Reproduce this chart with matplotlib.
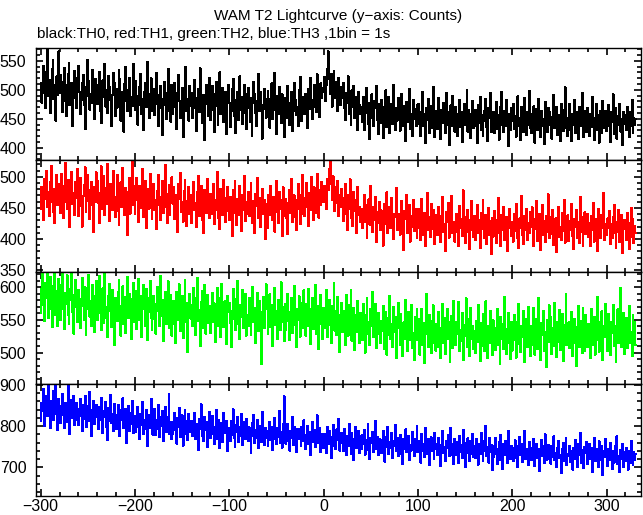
import numpy as np
import matplotlib.pyplot as plt
from matplotlib.ticker import MultipleLocator

plt.rcParams['font.family'] = ['Liberation Sans', 'DejaVu Sans']

title = 'WAM T2 Lightcurve (y\u2212axis: Counts)'
subtitle = 'black:TH0, red:TH1, green:TH2, blue:TH3 ,1bin = 1s'
t_start = -300   # time of first bin (s)
bin_width = 1    # 1bin = 1s

# counts per bin
th0 = [
    512, 478, 495, 541, 530, 468, 503, 572, 489, 517, 460, 498, 536, 551, 484, 509, 447, 523, 491, 566,
    494, 525, 513, 462, 481, 537, 508, 455, 499, 528, 546, 473, 490, 512, 437, 504, 533, 486, 469, 520,
    541, 497, 458, 483, 511, 526, 474, 432, 505, 489, 552, 515, 466, 493, 478, 534, 501, 449, 519, 487,
    476, 508, 531, 463, 442, 497, 516, 488, 545, 471, 499, 460, 523, 504, 482, 437, 491, 529, 512, 454,
    502, 469, 485, 534, 518, 447, 476, 496, 428, 510, 539, 481, 463, 499, 521, 455, 487, 472, 544, 493,
    466, 515, 489, 440, 473, 505, 527, 458, 484, 431, 496, 512, 470, 548, 479, 451, 493, 520, 464, 486,
    501, 457, 476, 529, 491, 438, 468, 506, 485, 422, 473, 514, 495, 449, 482, 536, 463, 477, 445, 509,
    459, 488, 512, 470, 433, 494, 526, 481, 452, 467, 503, 419, 476, 498, 540, 463, 484, 447, 506, 472,
    495, 451, 468, 517, 486, 429, 474, 502, 461, 537, 480, 443, 469, 491, 413, 476, 508, 488, 455, 521,
    448, 483, 506, 465, 427, 492, 514, 472, 439, 486, 530, 458, 477, 503, 444, 466, 497, 424, 481, 509,
    477, 436, 464, 501, 519, 455, 482, 425, 470, 496, 448, 523, 466, 487, 441, 474, 509, 460, 432, 492,
    503, 468, 445, 486, 421, 477, 514, 492, 459, 438, 481, 527, 463, 496, 474, 416, 467, 501, 485, 452,
    460, 498, 473, 435, 484, 511, 449, 466, 529, 477, 424, 489, 458, 505, 470, 443, 492, 481, 418, 475,
    486, 451, 507, 469, 440, 478, 496, 429, 463, 512, 483, 457, 471, 437, 499, 522, 465, 446, 488, 474,
    458, 493, 476, 434, 501, 467, 520, 482, 449, 471, 509, 488, 462, 527, 479, 495, 453, 511, 486, 503,
    497, 522, 481, 509, 536, 566, 518, 493, 527, 471, 508, 532, 486, 514, 499, 463, 521, 490, 474, 505,
    486, 512, 469, 448, 495, 477, 523, 458, 481, 439, 499, 470, 506, 452, 488, 463, 431, 497, 474, 459,
    471, 445, 488, 430, 459, 503, 466, 441, 478, 415, 464, 492, 452, 437, 481, 469, 506, 448, 424, 475,
    443, 482, 460, 417, 471, 453, 499, 436, 462, 488, 426, 457, 475, 441, 509, 455, 430, 468, 447, 486,
    465, 429, 451, 493, 438, 472, 456, 411, 479, 445, 460, 502, 433, 458, 421, 483, 449, 467, 437, 474,
    441, 476, 453, 420, 462, 497, 437, 458, 408, 469, 448, 484, 426, 455, 472, 434, 505, 451, 418, 463,
    459, 432, 486, 447, 415, 466, 443, 478, 452, 425, 494, 440, 461, 404, 454, 473, 437, 489, 446, 428,
    470, 445, 421, 458, 483, 436, 462, 410, 449, 476, 439, 455, 499, 428, 465, 443, 417, 459, 481, 434,
    438, 466, 451, 409, 473, 442, 488, 430, 457, 421, 463, 447, 484, 436, 412, 469, 452, 495, 428, 456,
    462, 425, 448, 479, 433, 456, 414, 471, 440, 496, 451, 427, 464, 438, 482, 445, 403, 459, 431, 468,
    447, 476, 432, 455, 419, 465, 489, 437, 451, 413, 470, 444, 428, 486, 456, 422, 461, 439, 498, 434,
    425, 458, 441, 472, 409, 446, 467, 430, 484, 453, 418, 463, 437, 450, 406, 479, 443, 427, 469, 452,
    461, 438, 416, 453, 491, 434, 449, 470, 422, 457, 442, 411, 476, 445, 429, 466, 504, 435, 452, 420,
    447, 475, 430, 411, 458, 440, 483, 426, 462, 449, 415, 471, 438, 456, 495, 432, 418, 464, 446, 427,
    468, 443, 421, 459, 436, 488, 451, 413, 445, 476, 430, 457, 409, 464, 441, 426, 481, 448, 434, 463,
    429, 452, 474, 437, 410, 461, 445, 492, 423, 447, 468, 416, 455, 439, 476, 428, 450, 405, 462, 441,
    456, 431, 470, 444, 418, 462, 437, 483, 426, 452, 439, 449,
]

th1 = [
    448, 483, 470, 431, 497, 465, 509, 452, 476, 437, 492, 518, 459, 444, 481, 426, 467, 503, 455, 488,
    471, 442, 504, 486, 433, 460, 522, 477, 449, 495, 463, 419, 482, 508, 456, 474, 439, 491, 466, 513,
    437, 476, 498, 453, 420, 469, 487, 515, 444, 461, 503, 478, 432, 455, 492, 470, 411, 484, 459, 507,
    493, 458, 426, 474, 517, 449, 465, 501, 438, 482, 456, 521, 467, 429, 488, 473, 446, 510, 462, 435,
    468, 503, 445, 423, 477, 491, 452, 514, 463, 438, 482, 460, 407, 475, 498, 441, 469, 524, 454, 486,
    441, 475, 498, 462, 427, 486, 450, 471, 512, 436, 459, 493, 417, 466, 481, 449, 505, 458, 432, 477,
    489, 446, 463, 416, 478, 503, 455, 431, 468, 494, 442, 460, 519, 451, 425, 473, 487, 438, 461, 499,
    457, 483, 432, 470, 449, 412, 488, 465, 506, 443, 459, 428, 477, 495, 450, 421, 462, 484, 440, 471,
    426, 464, 492, 447, 458, 419, 475, 501, 437, 453, 486, 430, 468, 410, 479, 455, 442, 497, 461, 434,
    473, 440, 456, 489, 424, 462, 447, 508, 433, 469, 416, 481, 452, 438, 495, 459, 427, 466, 484, 445,
    431, 468, 450, 405, 479, 442, 493, 457, 422, 464, 438, 485, 451, 413, 470, 446, 502, 429, 460, 440,
    476, 437, 455, 490, 426, 461, 444, 409, 472, 453, 498, 434, 466, 420, 449, 481, 441, 463, 400, 457,
    449, 418, 471, 439, 486, 454, 430, 467, 412, 458, 494, 443, 425, 476, 448, 462, 405, 483, 437, 452,
    465, 433, 408, 458, 479, 442, 497, 427, 454, 470, 436, 415, 462, 488, 449, 424, 471, 440, 503, 456,
    437, 466, 490, 452, 421, 474, 446, 499, 461, 430, 483, 457, 442, 505, 468, 434, 478, 455, 492, 471,
    459, 486, 472, 448, 497, 478, 512, 526, 489, 463, 501, 476, 445, 484, 458, 493, 437, 470, 452, 481,
    466, 429, 453, 488, 440, 415, 471, 448, 496, 433, 457, 421, 476, 445, 462, 409, 483, 438, 451, 427,
    449, 418, 436, 471, 427, 455, 402, 440, 464, 423, 486, 437, 411, 452, 431, 468, 395, 444, 426, 459,
    415, 446, 431, 389, 457, 424, 439, 475, 410, 433, 452, 418, 466, 427, 400, 441, 436, 482, 414, 429,
    440, 407, 427, 461, 419, 382, 445, 432, 471, 409, 428, 454, 396, 437, 420, 463, 413, 431, 448, 401,
    418, 449, 433, 398, 465, 421, 407, 442, 388, 426, 474, 414, 435, 403, 457, 429, 416, 446, 392, 438,
    430, 406, 452, 419, 395, 437, 468, 411, 424, 381, 443, 427, 458, 402, 417, 435, 469, 409, 428, 396,
    412, 441, 426, 389, 453, 417, 432, 405, 478, 420, 393, 436, 411, 447, 424, 384, 431, 461, 415, 403,
    437, 398, 421, 455, 409, 430, 386, 442, 416, 463, 401, 425, 439, 392, 418, 450, 407, 429, 376, 433,
    404, 445, 419, 393, 431, 466, 410, 427, 388, 439, 414, 452, 399, 422, 436, 380, 417, 448, 426, 405,
    428, 396, 440, 413, 457, 402, 424, 385, 433, 418, 469, 407, 392, 437, 415, 449, 398, 426, 410, 443,
    419, 451, 403, 388, 432, 416, 461, 397, 425, 440, 383, 414, 454, 406, 429, 395, 437, 412, 472, 401,
    436, 408, 421, 447, 390, 417, 433, 379, 428, 451, 404, 419, 398, 442, 413, 463, 394, 426, 409, 438,
    397, 429, 414, 456, 405, 384, 432, 420, 446, 401, 427, 393, 467, 412, 435, 389, 423, 443, 408, 418,
    441, 403, 426, 389, 437, 415, 458, 396, 420, 432, 381, 449, 410, 427, 401, 439, 418, 474, 399, 424,
    406, 433, 417, 445, 392, 424, 401, 436, 455, 410, 386, 428, 412, 447, 395, 421, 439, 377, 416, 430,
    419, 398, 442, 411, 384, 426, 450, 404, 432, 393, 421, 409,
]

th2 = [
    561, 597, 624, 572, 548, 606, 583, 631, 553, 590, 615, 566, 539, 601, 578, 628, 557, 594, 541, 612,
    584, 550, 603, 627, 566, 536, 591, 574, 618, 558, 543, 597, 581, 625, 562, 529, 588, 611, 569, 546,
    595, 563, 538, 582, 614, 571, 549, 600, 527, 566, 592, 619, 555, 578, 541, 603, 586, 532, 573, 609,
    550, 588, 617, 561, 534, 579, 598, 545, 622, 570, 553, 524, 587, 604, 563, 539, 596, 576, 512, 583,
    577, 548, 593, 611, 559, 526, 572, 601, 544, 585, 530, 569, 615, 553, 590, 565, 521, 582, 606, 547,
    558, 594, 536, 571, 612, 549, 587, 524, 566, 603, 578, 541, 597, 519, 562, 584, 610, 553, 535, 575,
    587, 551, 529, 575, 600, 563, 541, 617, 556, 581, 518, 567, 593, 544, 572, 609, 537, 561, 588, 526,
    544, 579, 563, 515, 592, 571, 549, 604, 533, 566, 586, 522, 558, 611, 547, 575, 501, 569, 590, 552,
    573, 540, 598, 556, 527, 583, 614, 548, 565, 510, 577, 594, 538, 561, 603, 529, 552, 588, 545, 571,
    530, 568, 591, 547, 575, 516, 560, 599, 541, 583, 557, 524, 605, 566, 539, 578, 550, 513, 586, 562,
    576, 545, 508, 563, 597, 551, 582, 534, 569, 610, 543, 521, 573, 555, 596, 538, 565, 589, 526, 558,
    541, 583, 560, 527, 574, 600, 546, 568, 515, 557, 591, 533, 579, 548, 482, 562, 585, 537, 570, 604,
    566, 528, 551, 589, 539, 572, 510, 556, 598, 542, 563, 521, 580, 553, 534, 607, 547, 569, 517, 574,
    535, 571, 590, 548, 519, 562, 583, 530, 556, 601, 542, 508, 567, 549, 586, 524, 558, 576, 537, 595,
    559, 526, 574, 541, 597, 551, 513, 566, 584, 536, 555, 603, 529, 547, 571, 505, 562, 588, 543, 520,
    568, 537, 553, 596, 524, 559, 580, 542, 514, 571, 550, 606, 533, 563, 527, 585, 546, 501, 558, 576,
    531, 564, 547, 512, 588, 553, 526, 572, 539, 595, 518, 545, 568, 504, 557, 532, 579, 541, 515, 561,
    552, 519, 574, 537, 500, 558, 583, 529, 546, 511, 567, 541, 593, 523, 549, 574, 507, 536, 561, 528,
    515, 548, 533, 571, 506, 539, 562, 497, 553, 527, 586, 520, 544, 509, 569, 532, 555, 491, 538, 576,
    543, 511, 559, 528, 494, 546, 521, 580, 535, 502, 562, 519, 548, 573, 507, 530, 489, 554, 525, 566,
    519, 551, 497, 536, 567, 512, 545, 484, 528, 590, 534, 508, 557, 523, 499, 548, 572, 515, 538, 503,
    544, 509, 562, 527, 491, 538, 574, 514, 553, 498, 529, 566, 520, 547, 485, 532, 556, 507, 579, 525,
    512, 546, 528, 577, 503, 535, 518, 561, 489, 542, 526, 583, 509, 551, 530, 494, 568, 521, 540, 506,
    533, 499, 548, 516, 572, 527, 487, 545, 510, 559, 536, 502, 578, 523, 491, 541, 515, 563, 529, 496,
    549, 522, 504, 538, 567, 511, 532, 483, 555, 520, 543, 506, 585, 527, 498, 536, 561, 514, 490, 547,
    503, 537, 558, 519, 492, 546, 513, 574, 528, 501, 541, 523, 564, 486, 533, 552, 509, 570, 521, 495,
    540, 512, 529, 568, 497, 534, 551, 506, 583, 518, 489, 545, 527, 563, 502, 531, 478, 549, 516, 572,
    521, 554, 498, 537, 510, 576, 528, 493, 547, 516, 565, 504, 533, 559, 487, 542, 520, 590, 511, 536,
    546, 507, 531, 562, 494, 523, 552, 515, 480, 539, 571, 509, 528, 548, 499, 568, 525, 503, 557, 517,
    508, 543, 525, 491, 566, 532, 512, 554, 497, 537, 585, 519, 501, 546, 528, 563, 489, 540, 523, 574,
    535, 502, 559, 521, 496, 547, 530, 573, 510, 541, 486, 527, 566, 514, 552, 598, 509, 533, 561, 498,
    526, 553, 507, 540, 571, 515, 532, 494, 558, 520, 546, 511,
]

th3 = [
    812, 856, 837, 889, 801, 843, 872, 824, 907, 846, 796, 861, 833, 884, 815, 852, 903, 829, 790, 866,
    848, 807, 831, 879, 826, 795, 857, 842, 811, 898, 836, 781, 864, 819, 845, 873, 802, 828, 856, 814,
    803, 841, 866, 825, 788, 852, 817, 874, 833, 797, 849, 812, 883, 826, 776, 838, 861, 805, 822, 851,
    829, 794, 847, 815, 869, 802, 783, 836, 821, 858, 797, 766, 843, 812, 876, 808, 830, 789, 854, 818,
    793, 826, 852, 801, 776, 838, 814, 867, 796, 823, 842, 759, 810, 848, 789, 831, 805, 861, 784, 817,
    824, 787, 811, 846, 798, 769, 830, 803, 858, 781, 816, 792, 839, 752, 807, 828, 795, 866, 812, 779,
    806, 841, 779, 815, 793, 852, 773, 821, 800, 836, 764, 809, 847, 786, 822, 796, 877, 781, 811, 768,
    781, 810, 833, 790, 758, 819, 797, 845, 774, 804, 826, 753, 792, 838, 780, 813, 766, 829, 801, 785,
    812, 775, 796, 831, 768, 805, 789, 742, 818, 794, 853, 777, 799, 764, 823, 791, 809, 750, 787, 835,
    771, 802, 824, 780, 757, 797, 839, 768, 789, 815, 746, 792, 808, 761, 831, 783, 798, 812, 740, 794,
    796, 765, 813, 779, 841, 771, 750, 804, 786, 823, 762, 798, 775, 830, 755, 791, 809, 768, 817, 776,
    764, 797, 782, 736, 808, 775, 828, 759, 790, 771, 815, 748, 786, 801, 761, 834, 779, 754, 796, 771,
    789, 752, 777, 811, 766, 798, 743, 783, 820, 769, 757, 795, 774, 837, 760, 785, 748, 806, 872, 793,
    758, 784, 806, 765, 741, 789, 772, 823, 755, 797, 776, 737, 794, 768, 794, 781, 752, 799, 763, 814,
    779, 745, 769, 801, 757, 785, 731, 774, 810, 762, 790, 749, 777, 826, 759, 768, 795, 738, 782, 760,
    748, 781, 768, 736, 797, 756, 789, 775, 723, 764, 803, 751, 770, 745, 792, 766, 817, 741, 759, 784,
    771, 740, 793, 757, 729, 776, 751, 805, 764, 733, 783, 756, 718, 769, 797, 747, 762, 789, 736, 775,
    744, 779, 758, 791, 731, 767, 742, 806, 753, 721, 772, 760, 786, 738, 756, 812, 745, 773, 729, 764,
    768, 735, 757, 789, 741, 714, 774, 750, 798, 732, 761, 746, 783, 722, 765, 753, 804, 739, 771, 727,
    752, 779, 733, 760, 708, 769, 745, 792, 737, 758, 776, 719, 754, 741, 787, 762, 728, 770, 749, 801,
    737, 764, 749, 712, 781, 740, 757, 725, 795, 751, 733, 768, 706, 746, 773, 739, 760, 720, 784, 744,
    758, 729, 771, 742, 703, 755, 788, 734, 750, 716, 765, 747, 779, 727, 741, 796, 730, 757, 709, 769,
    731, 762, 745, 711, 776, 738, 754, 722, 790, 746, 701, 759, 735, 771, 748, 716, 765, 733, 782, 726,
    753, 724, 768, 740, 707, 757, 732, 784, 745, 716, 763, 739, 800, 728, 750, 712, 772, 737, 755, 694,
    726, 752, 771, 733, 709, 745, 762, 718, 779, 740, 697, 756, 730, 765, 742, 710, 788, 735, 721, 753,
    748, 715, 738, 766, 724, 751, 700, 742, 774, 729, 756, 713, 737, 789, 720, 744, 731, 706, 762, 739,
    717, 746, 733, 770, 704, 739, 758, 722, 745, 692, 736, 767, 728, 751, 711, 780, 734, 719, 755, 741,
    741, 709, 752, 726, 775, 718, 736, 701, 748, 764, 723, 730, 687, 744, 759, 715, 738, 771, 706, 733,
    727, 753, 713, 739, 695, 748, 720, 766, 735, 702, 757, 729, 784, 711, 742, 725, 698, 750, 736, 762,
    709, 738, 757, 721, 746, 690, 731, 772, 715, 744, 727, 700, 763, 734, 717, 753, 682, 739, 726, 768,
    733, 704, 745, 718, 760, 727, 697, 739, 712, 751, 735, 776, 708, 729, 688, 742, 721, 756, 701, 737,
    716, 748, 729, 695, 740, 711, 764, 723, 706, 737, 719, 732,
]

series = [th0, th1, th2, th3]
colors = ['black', 'red', '#00ff00', 'blue']
ylims = [(379, 572), (347, 527), (452, 623), (631, 902)]
ymajor = [50, 50, 50, 100]
yminor = [10, 10, 10, 20]

W, H = 643, 515
fig = plt.figure(figsize=(W / 100, H / 100), dpi=100)

# panel geometry in pixels
left, right = 36, 641
top, bottom = 48, 496
ph = (bottom - top) / 4

for i, vals in enumerate(series):
    ax = fig.add_axes([left / W, 1 - (top + (i + 1) * ph) / H, (right - left) / W, ph / H])
    x = t_start + bin_width * np.arange(len(vals))
    ax.plot(x, vals, drawstyle='steps-mid', color=colors[i], lw=0.72, antialiased=False)
    ax.set_xlim(-305, 336.5)
    ax.set_ylim(*ylims[i])
    ax.xaxis.set_major_locator(MultipleLocator(100))
    ax.xaxis.set_minor_locator(MultipleLocator(20))
    ax.yaxis.set_major_locator(MultipleLocator(ymajor[i]))
    ax.yaxis.set_minor_locator(MultipleLocator(yminor[i]))
    ax.tick_params(which='both', direction='in', top=True, right=True, labelsize=11.5, width=1.2)
    ax.tick_params(which='major', length=5)
    ax.tick_params(which='minor', length=2.6)
    ax.tick_params(axis='y', pad=7)
    ax.tick_params(axis='x', pad=2.5)
    for s in ax.spines.values():
        s.set_linewidth(1.0)
    if i < 3:
        ax.tick_params(labelbottom=False)

fig.text(338 / W, 1 - 16 / H, title, ha='center', va='center', fontsize=11)
fig.text(37 / W, 1 - 34 / H, subtitle, ha='left', va='center', fontsize=11)

fig.savefig('out.png', dpi=100)
